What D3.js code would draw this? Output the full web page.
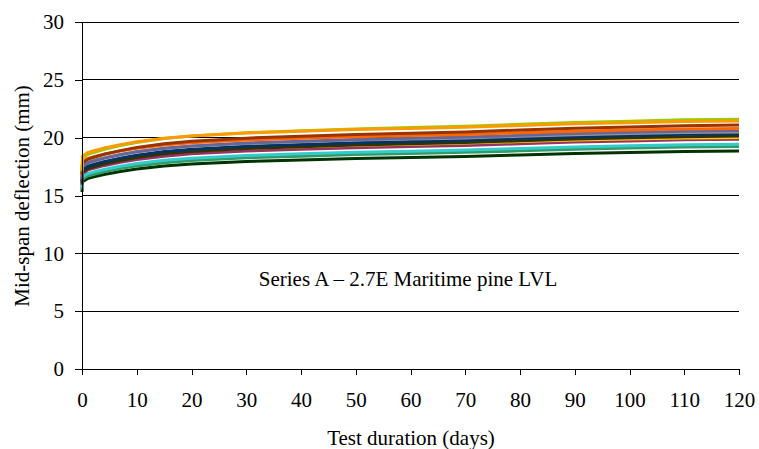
<!DOCTYPE html>
<html><head><meta charset="utf-8">
<script src="https://cdn.jsdelivr.net/npm/d3@7"></script>
<style>body{margin:0;background:#fff}svg{display:block}text{font-family:"Liberation Serif","Times New Roman",serif;fill:#000}</style>
</head><body><svg id="c" width="759" height="449"></svg>
<script>
const days = [0, 0.1, 1, 2, 4, 7, 10, 15, 20, 30, 40, 50, 60, 70, 80, 90, 100, 110, 120];
const xTicks = [0,10,20,30,40,50,60,70,80,90,100,110,120];
const yTicks = [0,5,10,15,20,25,30];
const colors = ["#003300","#339966","#33CCCC","#993366","#FFCC00","#333300","#003366","#969696","#666699","#FF6600","#993300","#99CC00","#FF9900"];
const s13 = [15.3,16.20,16.46,16.59,16.81,17.07,17.29,17.55,17.72,17.94,18.07,18.20,18.29,18.38,18.51,18.64,18.72,18.81,18.85];
const s12 = [15.5,16.40,16.68,16.82,17.05,17.33,17.56,17.84,18.03,18.26,18.40,18.54,18.63,18.73,18.86,19.00,19.10,19.19,19.24];
const s11 = [15.7,16.60,16.88,17.02,17.25,17.53,17.76,18.04,18.23,18.46,18.60,18.74,18.83,18.93,19.06,19.20,19.30,19.39,19.44];
const s10 = [15.9,16.90,17.19,17.34,17.58,17.87,18.11,18.40,18.60,18.84,18.99,19.13,19.23,19.33,19.47,19.62,19.71,19.81,19.86];
const s9  = [16.3,17.30,17.57,17.70,17.92,18.19,18.41,18.68,18.86,19.08,19.21,19.35,19.44,19.53,19.66,19.79,19.88,19.97,20.01];
const s8  = [16.0,17.00,17.31,17.46,17.72,18.03,18.29,18.60,18.80,19.06,19.21,19.37,19.47,19.58,19.73,19.88,19.99,20.09,20.14];
const s7  = [16.2,17.20,17.51,17.66,17.92,18.23,18.49,18.80,19.00,19.26,19.41,19.57,19.67,19.78,19.93,20.08,20.19,20.29,20.34];
const s6  = [16.6,17.60,17.89,18.03,18.27,18.55,18.79,19.07,19.26,19.50,19.64,19.79,19.88,19.98,20.12,20.26,20.36,20.45,20.50];
const s5  = [16.4,17.50,17.81,17.96,18.21,18.52,18.78,19.08,19.29,19.54,19.69,19.85,19.95,20.05,20.20,20.36,20.46,20.56,20.61];
const s4  = [16.9,17.90,18.19,18.33,18.57,18.85,19.09,19.37,19.56,19.80,19.94,20.09,20.18,20.28,20.42,20.56,20.66,20.75,20.80];
const s3  = [16.8,17.80,18.12,18.29,18.56,18.88,19.15,19.47,19.69,19.96,20.12,20.28,20.39,20.50,20.66,20.82,20.93,21.04,21.09];
const s1  = [17.1,18.20,18.53,18.70,18.98,19.32,19.59,19.93,20.15,20.43,20.60,20.76,20.88,20.99,21.15,21.32,21.43,21.55,21.60];
const s2  = [17.3,18.40,18.70,18.85,19.10,19.40,19.65,19.95,20.15,20.40,20.55,20.70,20.80,20.90,21.05,21.20,21.30,21.40,21.45];
const seriesList = [s13,s12,s11,s10,s9,s8,s7,s6,s5,s4,s3,s1,s2];

const svg = d3.select("#c");
const x = d3.scaleLinear().domain([0,120]).range([82,739]);
const y = d3.scaleLinear().domain([0,30]).range([369,22]);

// gridlines
svg.append("g").selectAll("line").data(yTicks.filter(d=>d>0)).join("line")
  .attr("x1",x(0)).attr("x2",x(120)).attr("y1",d=>y(d)).attr("y2",d=>y(d))
  .attr("stroke","#000").attr("stroke-width",1).attr("shape-rendering","crispEdges");

const line = d3.line().x((d,i)=>x(days[i])).y(d=>y(d));
svg.append("g").selectAll("path").data(seriesList).join("path")
  .attr("d",d=>line(d)).attr("fill","none")
  .attr("stroke",(d,i)=>colors[i]).attr("stroke-width",3).attr("stroke-linejoin","round");

const gx = svg.append("g").attr("transform",`translate(0,${y(0)})`)
  .call(d3.axisBottom(x).tickValues(xTicks).tickSize(6).tickPadding(17));
const gy = svg.append("g").attr("transform",`translate(${x(0)},0)`)
  .call(d3.axisLeft(y).tickValues(yTicks).tickSize(7).tickPadding(11));
[gx,gy].forEach(g=>{
  g.selectAll("path,line").attr("stroke","#000").attr("shape-rendering","crispEdges");
  g.selectAll("text").style("font-size","21px").style("font-family","Liberation Serif, Times New Roman, serif");
});

svg.append("text").attr("x",411).attr("y",445).attr("text-anchor","middle").style("font-size","21px").text("Test duration (days)");
svg.append("text").attr("transform","translate(29,196) rotate(-90)").attr("text-anchor","middle").style("font-size","21px").text("Mid-span deflection (mm)");
svg.append("text").attr("x",408).attr("y",286).attr("text-anchor","middle").style("font-size","21px").text("Series A \u2013 2.7E Maritime pine LVL");
</script></body></html>
